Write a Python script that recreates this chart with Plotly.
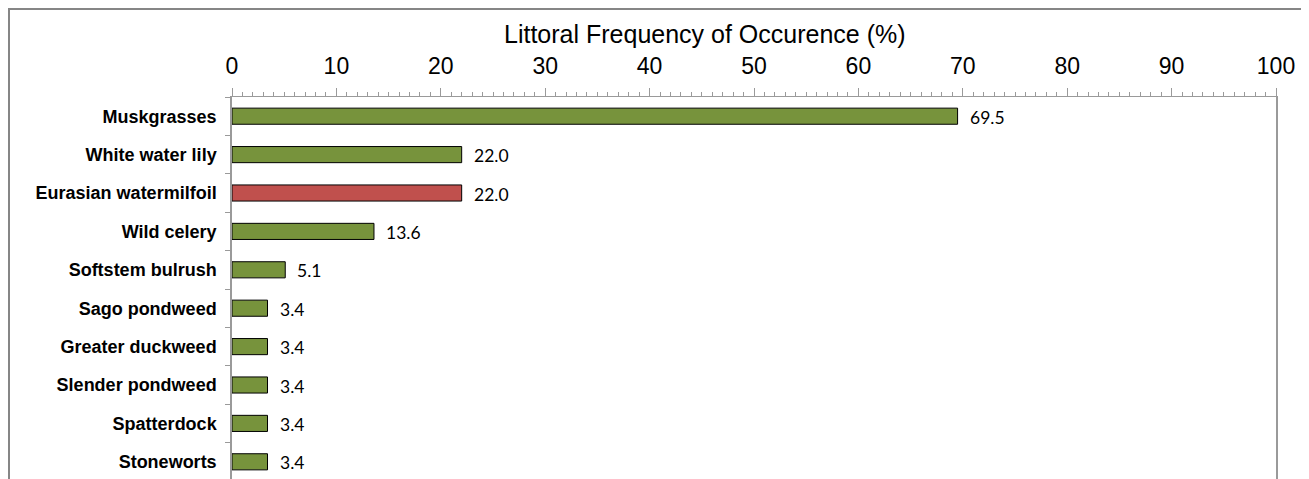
import plotly.graph_objects as go

species = ["Muskgrasses", "White water lily", "Eurasian watermilfoil", "Wild celery",
           "Softstem bulrush", "Sago pondweed", "Greater duckweed", "Slender pondweed",
           "Spatterdock", "Stoneworts"]
frequency = [69.5, 22.0, 22.0, 13.6, 5.1, 3.4, 3.4, 3.4, 3.4, 3.4]
invasive = ["Eurasian watermilfoil"]
x_title = "Littoral Frequency of Occurence (%)"

GREEN = "#77933C"
RED = "#C0504D"
AXIS = "#9a9a9a"

# page body has an 8px margin; figure sits at (8, 8) on screen
W, H = 1301, 471
L, R, T, B = 224, 33, 89, 0
pw, ph = W - L - R, H - T - B
band = 38.4

colors = [RED if s in invasive else GREEN for s in species]

fig = go.Figure(go.Bar(
    x=frequency, y=species, orientation="h",
    marker=dict(color=colors, line=dict(color="#000000", width=1)),
    hoverinfo="x+y",
))

for s, v in zip(species, frequency):
    fig.add_annotation(x=v, y=s, text=f"{v:.1f}", showarrow=False,
                       xanchor="left", yanchor="middle", xshift=10, yshift=-1,
                       font=dict(family="Lato", size=17.5, color="#000000"))

# title (screen y ~34 -> figure y ~26)
fig.add_annotation(x=(697 - L) / pw, y=(H - 26) / ph, xref="paper", yref="paper",
                   text=x_title, showarrow=False, xanchor="center", yanchor="middle",
                   font=dict(family="Liberation Sans, Arial", size=25, color="#000000"))

# outer frame (chart border)
fig.add_shape(type="rect", xref="paper", yref="paper",
              x0=(1 - L) / pw, x1=(W + 10 - L) / pw,
              y0=-0.05, y1=(H - 1) / ph,
              line=dict(color="#868686", width=2), fillcolor="rgba(0,0,0,0)", layer="below")

y_bottom = -0.5 + ph / band

fig.update_layout(
    width=W, height=H,
    margin=dict(l=L, r=R, t=T, b=B, pad=0),
    paper_bgcolor="white", plot_bgcolor="white",
    showlegend=False, bargap=0.58,
    font=dict(family="Liberation Sans, Arial", color="#000000"),
    xaxis=dict(
        side="top", range=[0, 100], dtick=10, tick0=0,
        showgrid=False, zeroline=False,
        showline=True, linecolor=AXIS, linewidth=1,
        ticks="outside", ticklen=8, tickcolor=AXIS, tickwidth=1,
        tickfont=dict(family="Liberation Sans, Arial", size=23, color="#000000"),
        ticklabelstandoff=5,
        minor=dict(dtick=1, ticks="outside", ticklen=4, tickcolor=AXIS, tickwidth=1, showgrid=False),
        fixedrange=True,
    ),
    yaxis=dict(
        type="category", categoryorder="array", categoryarray=species,
        range=[y_bottom, -0.5],
        showgrid=False, zeroline=False,
        showline=True, linecolor=AXIS, linewidth=1.5, mirror=True,
        ticks="outside", ticklen=5, tickcolor=AXIS, tickson="boundaries",
        tickfont=dict(family="Liberation Sans, Arial", size=18, color="#000000", weight="bold"),
        ticklabelstandoff=10,
        fixedrange=True,
    ),
)

fig.write_html("out.html")
